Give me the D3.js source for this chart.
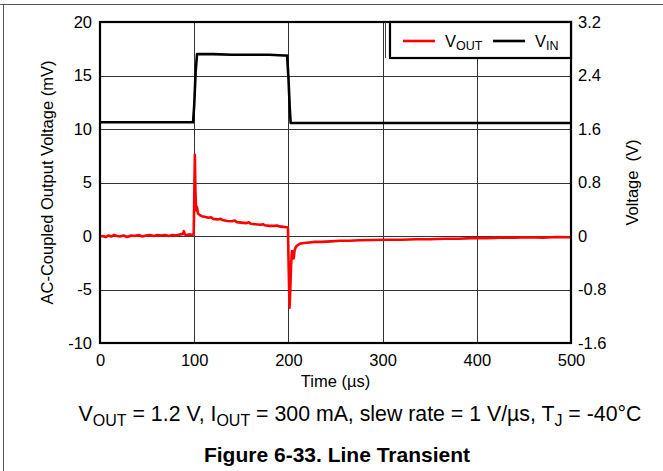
<!DOCTYPE html>
<html><head><meta charset="utf-8">
<script src="https://cdn.jsdelivr.net/npm/d3@7"></script>
<style>
body{margin:0;background:#fff;}
svg{display:block;font-family:"Liberation Sans",Arial,sans-serif;}
</style></head>
<body>
<script>
// ---- data ----
const xTicks = [0,100,200,300,400,500];
const yLeftTicks = [-10,-5,0,5,10,15,20];
const yLeftLabels = ["-10","-5","0","5","10","15","20"];
const yRightTicks = [-1.6,-0.8,0,0.8,1.6,2.4,3.2];
const yRightLabels = ["-1.6","-0.8","0","0.8","1.6","2.4","3.2"];

// V_OUT (AC-coupled, mV)
const voutTime = [0,3,6,9,12,15,18,21,25,29,33,37,41,45,49,53,57,61,65,69,73,77,81,85,88,89,90,92,95,98,99.5,100.2,100.7,101.3,102,103,104,106,108,111,115,118,120,125,128,130,135,140,143,145,150,155,158,160,165,170,173,175,180,185,188,190,195,198,199.5,200.3,201.2,202,202.8,203.8,204.6,205.6,206.6,208,210,213,217,222,228,235,245,255,265,275,290,305,320,335,350,365,380,395,410,425,440,455,470,485,500];
const voutValues = [-0.05,0.0,-0.1,0.05,-0.05,0.1,0.0,-0.05,0.05,-0.1,0.05,0.0,0.1,-0.05,0.05,0.1,0.0,0.1,0.05,0.1,0.0,0.1,0.05,0.15,0.2,0.45,0.15,0.1,0.15,0.1,0.2,4.5,7.6,4.2,2.4,2.7,2.1,1.95,1.85,1.8,1.7,1.75,1.6,1.55,1.6,1.5,1.4,1.38,1.45,1.3,1.25,1.2,1.28,1.15,1.1,1.05,1.1,1.0,0.95,0.95,0.98,0.9,0.85,0.82,0.8,-3.0,-6.7,-5.0,-2.8,-1.4,-1.6,-2.1,-1.3,-1.0,-0.85,-0.7,-0.65,-0.6,-0.55,-0.55,-0.5,-0.45,-0.45,-0.4,-0.38,-0.35,-0.35,-0.3,-0.3,-0.25,-0.25,-0.2,-0.2,-0.15,-0.15,-0.12,-0.15,-0.1,-0.12];

// V_IN (V)
const vinTime = [0,20,40,60,80,95,98.8,100,101.5,103,105,120,140,160,180,195,198.6,200,201.5,202.4,205,230,260,300,340,380,420,460,500];
const vinValues = [1.70,1.70,1.70,1.70,1.70,1.70,1.70,1.95,2.45,2.72,2.72,2.72,2.71,2.71,2.71,2.70,2.70,2.38,1.90,1.69,1.69,1.69,1.69,1.69,1.69,1.69,1.69,1.69,1.69];

// ---- layout ----
const W = 663, H = 471;
const m = {left:100, right:571, top:22, bottom:343};
const svg = d3.select("body").append("svg").attr("width",W).attr("height",H);

const x = d3.scaleLinear().domain([0,500]).range([m.left,m.right]);
const yL = d3.scaleLinear().domain([-10,20]).range([m.bottom,m.top]);
const yR = d3.scaleLinear().domain([-1.6,3.2]).range([m.bottom,m.top]);

// outer frame
svg.append("line").attr("x1",0).attr("x2",W).attr("y1",4.5).attr("y2",4.5).attr("stroke","#555").attr("stroke-width",1);
svg.append("line").attr("x1",3.5).attr("x2",3.5).attr("y1",4).attr("y2",H).attr("stroke","#555").attr("stroke-width",1);

// gridlines
const grid = svg.append("g").attr("stroke","#333").attr("stroke-width",1);
xTicks.slice(1,-1).forEach(t=>grid.append("line").attr("x1",Math.round(x(t))+0.5).attr("x2",Math.round(x(t))+0.5).attr("y1",m.top).attr("y2",m.bottom));
yLeftTicks.slice(1,-1).forEach(t=>grid.append("line").attr("y1",Math.round(yL(t))+0.5).attr("y2",Math.round(yL(t))+0.5).attr("x1",m.left).attr("x2",m.right));

// lines
const lineOut = d3.line().x((d,i)=>x(voutTime[i])).y(d=>yL(d));
const lineIn = d3.line().x((d,i)=>x(vinTime[i])).y(d=>yR(d));
svg.append("path").datum(vinValues).attr("d",lineIn).attr("fill","none").attr("stroke","#000").attr("stroke-width",2.6).attr("stroke-linejoin","round");
svg.append("path").datum(voutValues).attr("d",lineOut).attr("fill","none").attr("stroke","#ff0000").attr("stroke-width",2.6).attr("stroke-linejoin","round");

// plot border
svg.append("rect").attr("x",m.left).attr("y",m.top).attr("width",m.right-m.left).attr("height",m.bottom-m.top)
  .attr("fill","none").attr("stroke","#000").attr("stroke-width",2.2);

// axes (labels only)
const fs = 16.5;
const axB = svg.append("g").attr("transform",`translate(0,${m.bottom})`)
  .call(d3.axisBottom(x).tickValues(xTicks).tickSize(0).tickPadding(11).tickFormat(d=>String(d)));
const axL = svg.append("g").attr("transform",`translate(${m.left},0)`)
  .call(d3.axisLeft(yL).tickValues(yLeftTicks).tickSize(0).tickPadding(8).tickFormat((d,i)=>yLeftLabels[i]));
const axR = svg.append("g").attr("transform",`translate(${m.right},0)`)
  .call(d3.axisRight(yR).tickValues(yRightTicks).tickSize(0).tickPadding(7).tickFormat((d,i)=>yRightLabels[i]));
[axB,axL,axR].forEach(a=>{a.select(".domain").remove();a.selectAll("text").attr("font-size",fs).attr("fill","#000").attr("font-family","Liberation Sans, Arial, sans-serif");});

// axis titles
svg.append("text").attr("x",(m.left+m.right)/2).attr("y",387).attr("text-anchor","middle").attr("font-size",fs).text("Time (µs)");
svg.append("text").attr("transform",`translate(53,${(m.top+m.bottom)/2}) rotate(-90)`).attr("text-anchor","middle").attr("font-size",fs).text("AC-Coupled Output Voltage (mV)");
svg.append("text").attr("transform",`translate(638,${(m.top+m.bottom)/2}) rotate(-90)`).attr("text-anchor","middle").attr("font-size",fs).attr("xml:space","preserve").text("Voltage  (V)");

// legend
svg.append("line").attr("x1",385.5).attr("x2",385.5).attr("y1",m.top).attr("y2",58).attr("stroke","#444").attr("stroke-width",1);
svg.append("rect").attr("x",390).attr("y",m.top).attr("width",m.right-390).attr("height",36).attr("fill","#fff").attr("stroke","#000").attr("stroke-width",2.2);
const leg = [{c:"#ff0000",x1:403,sub:"OUT"},{c:"#000",x1:493,sub:"IN"}];
leg.forEach(l=>{
  svg.append("line").attr("x1",l.x1).attr("x2",l.x1+32).attr("y1",41).attr("y2",41).attr("stroke",l.c).attr("stroke-width",2.6);
  const t = svg.append("text").attr("x",l.x1+42).attr("y",47).attr("font-size",16.5);
  t.append("tspan").text("V");
  t.append("tspan").attr("font-size",12.5).attr("dy",3).text(l.sub);
});

// caption
const cap = svg.append("text").attr("x",360).attr("y",421).attr("text-anchor","middle").attr("font-size",21.3);
const parts = [["V",0],["OUT",1],[" = 1.2 V, I",0],["OUT",1],[" = 300 mA, slew rate = 1 V/µs, T",0],["J",1],[" = -40°C",0]];
let prevSub = 0;
parts.forEach(([s,sub])=>{
  const dy = sub===prevSub?0:(sub?4.5:-4.5);
  cap.append("tspan").attr("dy",dy).attr("font-size",sub?16:21.3).text(s);
  prevSub=sub;
});
svg.append("text").attr("x",337).attr("y",462).attr("text-anchor","middle").attr("font-size",21).attr("font-weight","bold").text("Figure 6-33. Line Transient");
</script>
</body></html>
